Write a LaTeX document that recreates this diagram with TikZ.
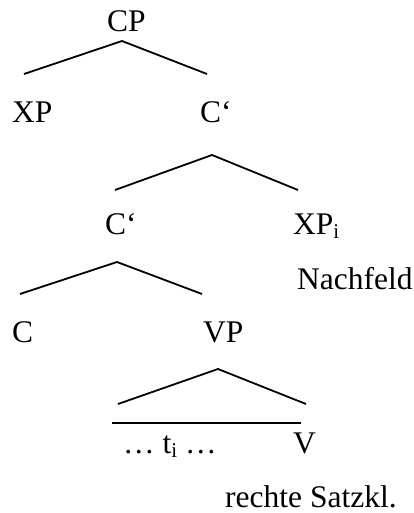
\documentclass[tikz,border=0pt]{standalone}
\usepackage{fontspec}
\setmainfont{Liberation Serif}
\begin{document}
\begin{tikzpicture}[x=1pt,y=-1pt,
  lbl/.style={anchor=base west,inner sep=0pt,font=\fontsize{31.5}{37}\selectfont},
  branch/.style={line width=1.8pt,line join=miter}]
\useasboundingbox (0,0) rectangle (413,513);
\newcommand{\sbi}{\raisebox{-4pt}{\fontsize{21}{21}\selectfont i}}
% labels
\node[lbl] (cp)   at (107,32)  {CP};
\node[lbl] (xp)   at (12,123)  {XP};
\node[lbl] (cb1)  at (200,123) {C‘};
\node[lbl] (cb2)  at (105,234) {C‘};
\node[lbl] (xpi)  at (293,234) {XP\sbi};
\node[lbl] (nf)   at (297,289) {Nachfeld};
\node[lbl] (c)    at (12,342)  {C};
\node[lbl] (vp)   at (203,342) {VP};
\node[lbl] (dots) at (123,453) {… t\sbi{} …};
\node[lbl] (v)    at (293,453) {V};
\node[lbl] (rsk)  at (225,507) {rechte Satzkl.};
% branch points
\coordinate (a1l) at (24,74);   \coordinate (a1t) at (122,41);  \coordinate (a1r) at (207,74);
\coordinate (a2l) at (115,190); \coordinate (a2t) at (212,155); \coordinate (a2r) at (298,190);
\coordinate (a3l) at (20,294);  \coordinate (a3t) at (117,262); \coordinate (a3r) at (202,294);
\coordinate (a4l) at (118,404); \coordinate (a4t) at (218,369); \coordinate (a4r) at (306,404);
\coordinate (hl) at (112,423);  \coordinate (hr) at (301,423);
\draw[branch] (a1l) -- (a1t) -- (a1r);
\draw[branch] (a2l) -- (a2t) -- (a2r);
\draw[branch] (a3l) -- (a3t) -- (a3r);
\draw[branch] (a4l) -- (a4t) -- (a4r);
\draw[branch] (hl) -- (hr);
\end{tikzpicture}
\end{document}
